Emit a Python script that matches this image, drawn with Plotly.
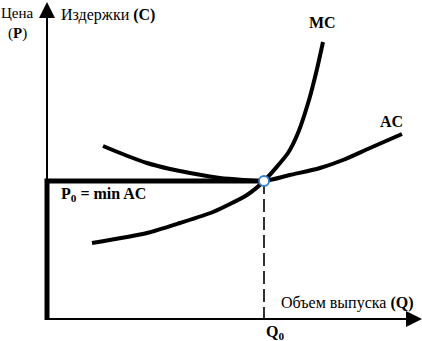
import plotly.graph_objects as go

# Data: output Q and cost C
mc_q = [45, 100, 133, 166, 200, 217, 241, 251, 262, 270, 276]
mc_c = [76, 86, 96, 107, 124, 138, 166, 186, 219, 250, 277]

ac_q = [56, 78, 100, 123, 143, 173, 198, 217, 243, 273, 296, 323, 355]
ac_c = [173, 164, 156, 150, 146, 141, 139, 138, 144, 151, 159, 171, 185]

q0 = 217
p0 = 138

x_rng = [-47, 375]
y_rng = [-22, 319]

font_serif = "Liberation Serif"

fig = go.Figure()

# dashed line from equilibrium to Q axis
fig.add_trace(go.Scatter(x=[q0, q0], y=[p0, 0], mode="lines",
                         line=dict(color="black", width=1.6, dash="13px,5px"),
                         hoverinfo="skip", showlegend=False))

# thick P0 line + thick vertical segment on the price axis
fig.add_trace(go.Scatter(x=[0, 0, q0], y=[-1, p0, p0], mode="lines",
                         line=dict(color="black", width=5),
                         hoverinfo="skip", showlegend=False))

# AC curve
fig.add_trace(go.Scatter(x=ac_q, y=ac_c, mode="lines",
                         line=dict(color="black", width=4, shape="spline", smoothing=0.8),
                         hoverinfo="skip", showlegend=False))

# MC curve
fig.add_trace(go.Scatter(x=mc_q, y=mc_c, mode="lines",
                         line=dict(color="black", width=4, shape="spline", smoothing=0.6),
                         hoverinfo="skip", showlegend=False))

# equilibrium point
fig.add_trace(go.Scatter(x=[q0], y=[p0], mode="markers",
                         marker=dict(size=10, color="white",
                                     line=dict(color="#2f7fd8", width=1.8)),
                         hoverinfo="skip", showlegend=False))

annotations = [
    # axes arrows
    dict(x=0, y=317, ax=0, ay=0, xref="x", yref="y", axref="x", ayref="y",
         text="", showarrow=True, arrowhead=2, arrowsize=1.6, arrowwidth=2,
         arrowcolor="black"),
    dict(x=375, y=0, ax=0, ay=0, xref="x", yref="y", axref="x", ayref="y",
         text="", showarrow=True, arrowhead=2, arrowsize=1.6, arrowwidth=2,
         arrowcolor="black"),
]

def label(x, y, text, xanchor="center", size=15):
    return dict(x=x, y=y, xref="x", yref="y", text=text, showarrow=False,
                xanchor=xanchor, yanchor="middle",
                font=dict(family=font_serif, size=size, color="black"))

annotations += [
    label(-30, 306, "Цена"),
    label(-30, 286, "(<b>P</b>)"),
    label(12, 304, "Издержки <b>(C)</b>", xanchor="left", size=16),
    label(275, 297, "<b>MC</b>", size=16),
    label(344, 198, "<b>AC</b>", size=16),
    label(12, 125, "<b>P<sub>0</sub> = min AC</b>", xanchor="left", size=16),
    label(232, 16, "Объем выпуска <b>(Q)</b>", xanchor="left", size=16),
    label(228, -13, "<b>Q<sub>0</sub></b>", size=16),
]

fig.update_layout(
    width=422, height=341,
    margin=dict(l=0, r=0, t=0, b=0),
    paper_bgcolor="white", plot_bgcolor="white",
    xaxis=dict(range=x_rng, visible=False, fixedrange=True),
    yaxis=dict(range=y_rng, visible=False, fixedrange=True),
    annotations=annotations,
)

fig.write_html("out.html")
